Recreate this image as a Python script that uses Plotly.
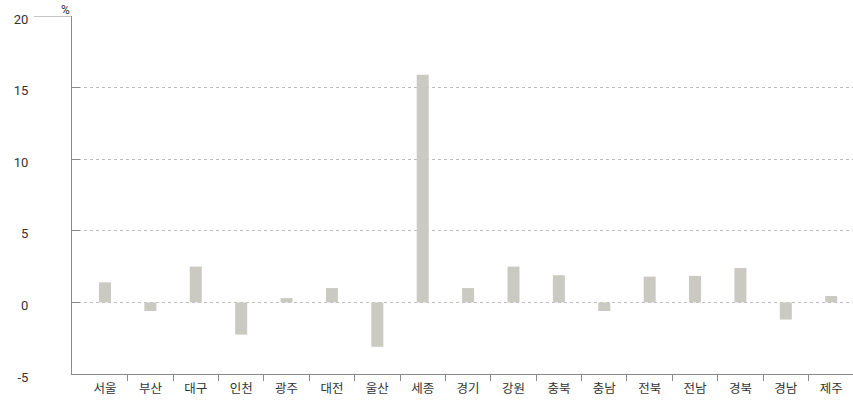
import plotly.graph_objects as go

regions = ["서울", "부산", "대구", "인천", "광주", "대전", "울산", "세종", "경기",
           "강원", "충북", "충남", "전북", "전남", "경북", "경남", "제주"]
values = [1.4, -0.6, 2.5, -2.25, 0.3, 1.0, -3.1, 15.9, 1.0,
          2.5, 1.9, -0.6, 1.8, 1.85, 2.4, -1.2, 0.45]
y_ticks = [-5, 0, 5, 10, 15, 20]
y_tick_labels = ["-5", "0", "5", "10", "15", "20"]
unit = "%"

W, H = 853, 402
ml, mr, mt, mb = 72, 0, 16, 28
xr = [-0.727, 16.48]

font_fam = "Noto Sans CJK KR, Roboto, sans-serif"
num_fam = "Roboto, Noto Sans CJK KR, sans-serif"
axis_col = "#8a8a8a"

fig = go.Figure()
fig.add_trace(go.Bar(x=regions, y=values, marker_color="#cbcac2",
                     marker_line_width=0, width=0.265, hoverinfo="x+y"))
# invisible helper trace for boundary tick axis
fig.add_trace(go.Scatter(x=[0], y=[0], xaxis="x2", mode="markers",
                         marker_opacity=0, showlegend=False, hoverinfo="skip"))

boundaries = [i + 0.5 for i in range(len(regions) - 1)]

fig.update_layout(
    width=W, height=H,
    margin=dict(l=ml, r=mr, t=mt, b=mb, autoexpand=False),
    plot_bgcolor="white", paper_bgcolor="white",
    showlegend=False,
    bargap=0.7,
    font=dict(family=font_fam, size=12, color="#333"),
    xaxis=dict(type="category", range=xr, showgrid=False, ticks="",
               showline=True, linecolor=axis_col, linewidth=1, automargin=False,
               tickfont=dict(size=12.5, color="#333"), ticklabelstandoff=3),
    xaxis2=dict(overlaying="x", type="linear", range=xr, tickvals=boundaries,
                showticklabels=False, ticks="outside", ticklen=6,
                tickcolor=axis_col, showgrid=False, zeroline=False,
                showline=False, side="bottom", automargin=False),
    yaxis=dict(range=[-5, 20], tickvals=y_ticks, ticktext=y_tick_labels,
               ticks="inside", ticklen=8,
               tickcolor=axis_col, showline=True, linecolor=axis_col,
               linewidth=1, showgrid=True, gridcolor="#bdbdbd", automargin=False,
               griddash="dot", gridwidth=1, zeroline=False,
               ticklabeloverflow="allow", ticklabelshift=3,
               tickfont=dict(family=num_fam, size=13, color="#333"),
               ticklabelstandoff=40),
)

# extended tick line at top value
fig.add_shape(type="line", xref="paper", yref="y",
              x0=(34 - ml) / (W - ml - mr), x1=0, y0=y_ticks[-1], y1=y_ticks[-1],
              line=dict(color=axis_col, width=1.2))
fig.add_annotation(text=unit, xref="paper", yref="paper", x=0, y=1,
                   xanchor="right", yanchor="bottom", showarrow=False,
                   xshift=0, yshift=-3,
                   font=dict(family=num_fam, size=12, color="#333"))

fig.write_html("out.html", config={"displayModeBar": False},
               post_script="document.body.style.margin='0';document.body.style.padding='0';")
